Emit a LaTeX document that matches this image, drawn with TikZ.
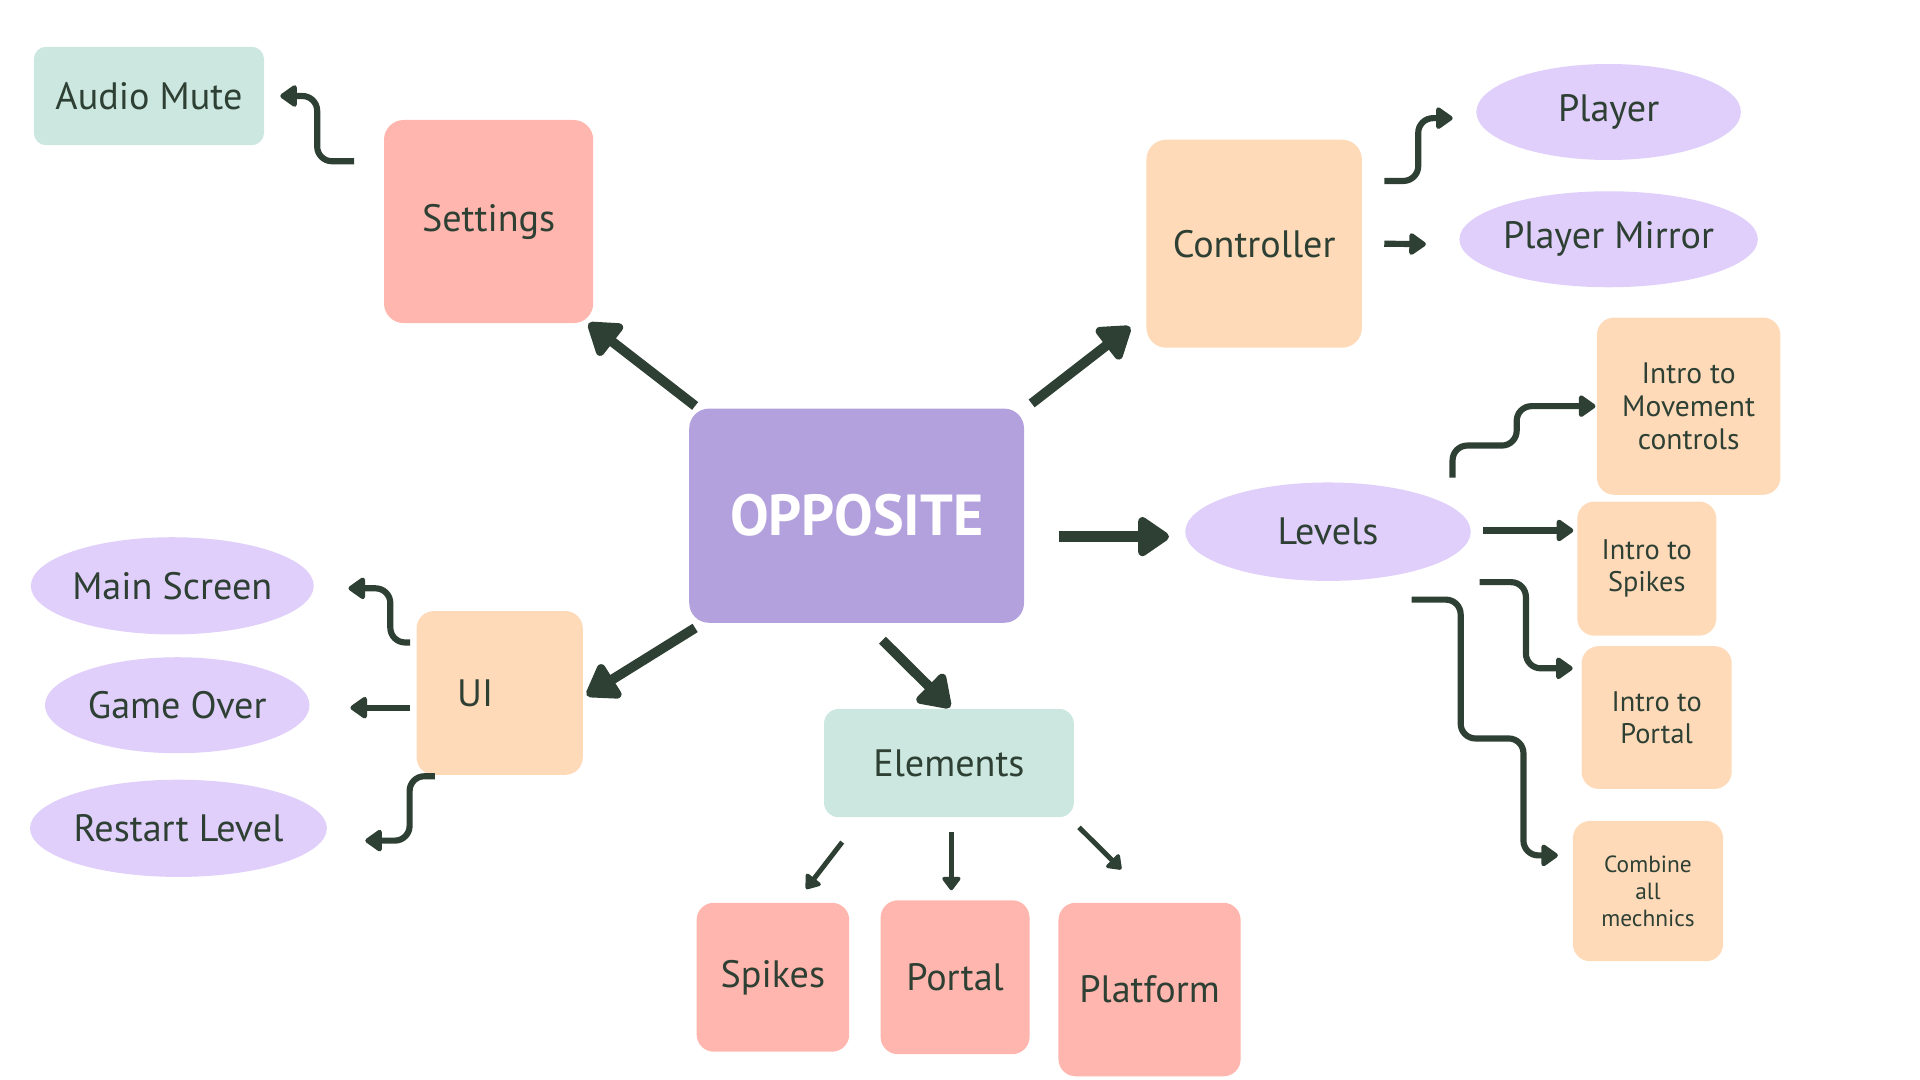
\documentclass[tikz,border=0pt]{standalone}
\usepackage{fontspec}
\setmainfont{PT Sans}
\usetikzlibrary{arrows.meta,positioning,shapes.geometric}
\definecolor{inkgreen}{HTML}{2E4034}
\definecolor{lilac}{HTML}{B3A1DD}
\definecolor{salmon}{HTML}{FFB6AE}
\definecolor{peach}{HTML}{FEDAB9}
\definecolor{lavender}{HTML}{E0CFFB}
\definecolor{mint}{HTML}{CCE7DF}

\begin{document}
\begin{tikzpicture}[x=1pt,y=-1pt,text=inkgreen,
    box/.style={rounded corners=16pt, inner sep=0pt, align=center},
    blob/.style={ellipse, fill=lavender, inner sep=0pt, align=center},
    lbl/.style={font=\fontsize{31}{36}\selectfont},
    bigarrow/.style={draw=inkgreen, line width=8pt, -{Triangle[round,length=28pt,width=36pt]}},
    elbow/.style={draw=inkgreen, line width=5pt, rounded corners=12pt, -{Triangle[round,length=15pt,width=20pt]}},
    smallarrow/.style={draw=inkgreen, line width=4pt, -{Triangle[round,length=12pt,width=17pt]}}]
    \useasboundingbox (0,0) rectangle (1560,877.5);

            \node (opposite) [box, fill=lilac, minimum width=272pt, minimum height=174pt, text=white, font=\bfseries\fontsize{47}{56}\selectfont] at (696,419) {OPPOSITE};

            \node (settings) [box, fill=salmon, minimum width=170pt, minimum height=165pt, lbl] at (397,180) {Settings};
            \node (audio) [box, fill=mint, rounded corners=10pt, minimum width=187pt, minimum height=80pt, lbl] at (121,78) {Audio Mute};

            \node (controller) [box, fill=peach, minimum width=175pt, minimum height=169pt, lbl] at (1019,198) {Controller};
            \node (player) [blob, minimum width=215pt, minimum height=78pt, lbl] at (1307,91) {Player};
            \node (mirror) [blob, minimum width=215pt, minimum height=78pt, lbl, below=25pt of player] {Player Mirror};

            \node (levels) [blob, minimum width=232pt, minimum height=80pt, lbl] at (1079,432) {Levels};
            \node (movement) [box, fill=peach, rounded corners=14pt, minimum width=149pt, minimum height=144pt, font=\fontsize{24}{27}\selectfont] at (1372,330) {Intro to\\Movement\\controls};
            \node (introspikes) [box, fill=peach, rounded corners=14pt, minimum width=113pt, minimum height=109pt, font=\fontsize{23}{26}\selectfont] at (1338,462) {Intro to\\Spikes};
            \node (introportal) [box, fill=peach, rounded corners=14pt, minimum width=122pt, minimum height=116pt, font=\fontsize{23}{26}\selectfont] at (1346,583) {Intro to\\Portal};
            \node (combine) [box, fill=peach, rounded corners=14pt, minimum width=122pt, minimum height=114pt, font=\fontsize{19}{22}\selectfont] at (1339,724) {Combine\\all\\mechnics};

            \node (ui) [box, fill=peach, rounded corners=14pt, minimum width=135pt, minimum height=133pt, lbl, text width=69pt, inner xsep=33pt, align=left] at (406,563) {UI};
            \node (mainscreen) [blob, minimum width=216pt, minimum height=79pt, lbl] at (140,476) {Main Screen};
            \node (gameover) [blob, minimum width=215pt, minimum height=78pt, lbl] at (144,573) {Game Over};
            \node (restart) [blob, minimum width=215pt, minimum height=79pt, lbl] at (145,673) {Restart Level};

            \node (elements) [box, fill=mint, rounded corners=12pt, minimum width=203pt, minimum height=88pt, lbl] at (771,620) {Elements};
            \node (spikes) [box, fill=salmon, rounded corners=14pt, minimum width=124pt, minimum height=121pt, lbl] at (628,794) {Spikes};
            \node (portal) [box, fill=salmon, rounded corners=14pt, minimum width=121pt, minimum height=125pt, lbl] at (776,794) {Portal};
            \node (platform) [box, fill=salmon, rounded corners=14pt, minimum width=148pt, minimum height=141pt, lbl] at (934,804) {Platform};


        \draw [bigarrow] ([shift={(5,-2)}]opposite.north west) -- ([shift={(-4,0)}]settings.south east);
        \draw [bigarrow] ([shift={(6,-4)}]opposite.north east) -- ([shift={(-13,-17)}]controller.south west);
        \draw [bigarrow, line width=9pt] ([shift={(28,17)}]opposite.east) -- ([shift={(-13,4)}]levels.west);
        \draw [bigarrow] ([shift={(5,4)}]opposite.south west) -- ([shift={(3,2)}]ui.east);
        \draw [bigarrow] ([shift={(21,14)}]opposite.south) -- ([shift={(1,-1)}]elements.north);

        \draw [elbow] ([shift={(-24,-49)}]settings.west) -| ([shift={(43,0)}]audio.east) -- ([shift={(13,0)}]audio.east);
        \draw [elbow] ([shift={(18,-51)}]controller.east) -| ([shift={(-47,5)}]player.west) -- ([shift={(-19,5)}]player.west);
        \draw [elbow] ([shift={(18,0)}]controller.east) -- ([shift={(-27,4)}]mirror.west);

        \draw [elbow] ([shift={(-5,-41)}]ui.west) -| ([shift={(62,2)}]mainscreen.east) -- ([shift={(28,2)}]mainscreen.east);
        \draw [elbow] ([shift={(-5,12)}]ui.west) -- ([shift={(33,2)}]gameover.east);
        \draw [elbow] ([shift={(15,1)}]ui.south west) -| ([shift={(67,10)}]restart.east) -- ([shift={(31,10)}]restart.east);

        \draw [elbow] ([shift={(-15,-44)}]levels.east) |- ([shift={(-65,32)}]movement.west) |- ([shift={(-1,0)}]movement.west);
        \draw [elbow] ([shift={(10,-1)}]levels.east) -- ([shift={(-3,-31)}]introspikes.west);
        \draw [elbow] ([shift={(7,41)}]levels.east) -| ([shift={(-45,-40)}]introportal.west) -- ([shift={(-7,-40)}]introportal.west);
        \draw [elbow] ([shift={(68,15)}]levels.south) -| ([shift={(-91,-124)}]combine.west) -| ([shift={(-40,-29)}]combine.west) -- ([shift={(-12,-29)}]combine.west);

        \draw [smallarrow] ([shift={(15,20)}]elements.south west) -- ([shift={(27,-11)}]spikes.north);
        \draw [smallarrow] ([shift={(2,12)}]elements.south) -- ([shift={(-3,-8)}]portal.north);
        \draw [smallarrow] ([shift={(4,8)}]elements.south east) -- ([shift={(-23,-27)}]platform.north);
\end{tikzpicture}
\end{document}
